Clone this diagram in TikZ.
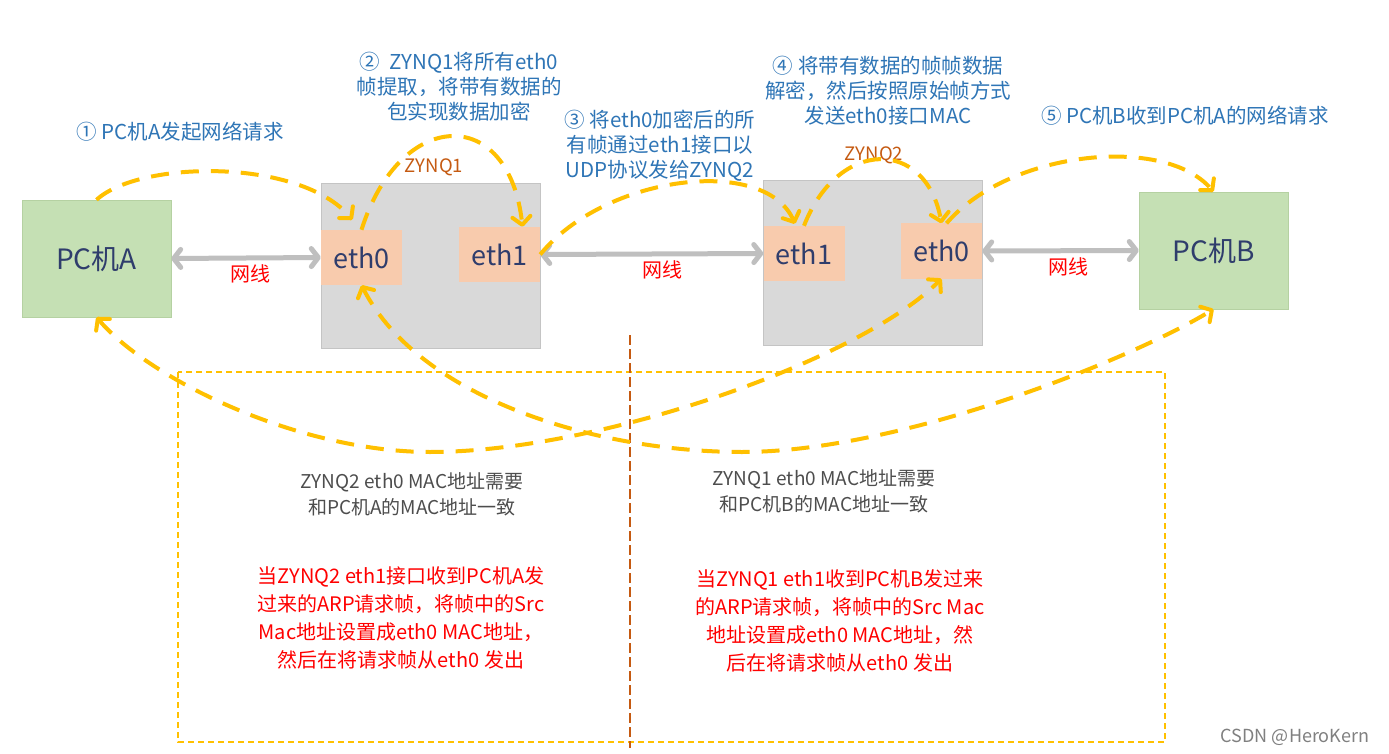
\documentclass[tikz,border=0pt]{standalone}
\usepackage{fontspec}
\setmainfont{Noto Sans CJK SC}
\usetikzlibrary{arrows.meta}
\definecolor{pcgreen}{HTML}{C5E0B4}
\definecolor{pcgreenline}{HTML}{B5D1A2}
\definecolor{chipgray}{HTML}{D9D9D9}
\definecolor{chipline}{HTML}{C4C4C4}
\definecolor{ethorange}{HTML}{F8CBAD}
\definecolor{navy}{HTML}{2F3D6C}
\definecolor{wiregray}{HTML}{BFBFBF}
\definecolor{flowyellow}{HTML}{FFC000}
\definecolor{noteblue}{HTML}{2E75B6}
\definecolor{chipbrown}{HTML}{C55A11}
\definecolor{macgray}{HTML}{4D4D4D}
\definecolor{arpred}{HTML}{FF0000}
\tikzstyle{pcbox} = [draw=pcgreenline,fill=pcgreen,minimum width=149pt,minimum height=117pt,inner sep=0pt,text=navy,font=\fontsize{28}{32}\selectfont]
\tikzstyle{chipbox} = [draw=chipline,fill=chipgray,minimum width=219pt,minimum height=165pt,inner sep=0pt]
\tikzstyle{ethbox} = [fill=ethorange,minimum width=81pt,minimum height=55pt,inner sep=0pt,text=navy,font=\fontsize{27}{30}\selectfont]
\tikzstyle{wire} = [line width=5pt,draw=wiregray,{Straight Barb[round,length=7pt,width=18pt]}-{Straight Barb[round,length=7pt,width=18pt]}]
\tikzstyle{wirelbl} = [text=arpred,font=\fontsize{20}{22}\selectfont,inner sep=1pt]
\tikzstyle{flow} = [line width=4pt,draw=flowyellow,dash pattern=on 18pt off 12pt,-{Straight Barb[round,length=8pt,width=18pt]}]
\tikzstyle{flowboth} = [flow,{Straight Barb[round,length=8pt,width=18pt]}-{Straight Barb[round,length=8pt,width=18pt]}]
\tikzstyle{stepnote} = [text=noteblue,align=center,font=\fontsize{20.5}{25}\selectfont,inner sep=0pt]
\tikzstyle{chiplbl} = [text=chipbrown,font=\fontsize{18.5}{20}\selectfont,inner sep=0pt]
\tikzstyle{macnote} = [text=macgray,align=center,font=\fontsize{19}{26}\selectfont,inner sep=0pt]
\tikzstyle{arpnote} = [text=arpred,align=center,font=\fontsize{20}{28}\selectfont,inner sep=0pt]

\begin{document}
\begin{tikzpicture}[x=1pt,y=-1pt]
			\useasboundingbox[fill=white] (0,0) rectangle (1389,754);
			
			%% region below
			\draw[flowyellow,line width=1.2pt,dash pattern=on 6pt off 4pt] (178,372) rectangle (1165,742);
			\draw[chipbrown,line width=1.2pt,dash pattern=on 10pt off 4pt] (630,335) -- (630,748);
			
			%% boxes
			\node[pcbox] (pcA) at (96.5,258.5) {PC机A}; \node[pcbox] (pcB) at (1213.5,250.5) {PC机B};
			\node[chipbox] (zynqA) at (430.5,265.5) {}; \node[chipbox] (zynqB) at (872.5,262.5) {};
			\node[ethbox] (ethA0) at (361.5,257.5) {eth0}; \node[ethbox] (ethA1) at (499.5,254.5) {eth1};
			\node[ethbox] (ethB1) at (804,253.5) {eth1}; \node[ethbox] (ethB0) at (941.5,251) {eth0};
			\node[chiplbl] (lblA) at (434,167) {ZYNQ1}; \node[chiplbl] (lblB) at (874,155) {ZYNQ2};
			
			%% cables
			\draw[wire] (pcA.east) -- node[wirelbl,pos=0.53,below=3pt] {网线} (ethA0.west);
			\draw[wire] (ethA1.east) -- node[wirelbl,pos=0.55,below=3pt] {网线} (ethB1.west);
			\draw[wire] (ethB0.east) -- node[wirelbl,pos=0.55,below=3pt] {网线} (pcB.west);
			
			%% request path
			\draw[flow] (pcA.north) .. controls (140,160) and (300,158) .. ([xshift=-9pt,yshift=10pt]ethA0.north);
			\draw[flow] (ethA0.north) .. controls (400,108) and (509,104) .. ([xshift=23pt]ethA1.north);
			\draw[flow] (ethA1.east) .. controls (605,175) and (765,155) .. ([xshift=-9pt,yshift=2pt]ethB1.north);
			\draw[flow] (ethB1.north) .. controls (838,138) and (926,138) .. (ethB0.north);
			\draw[flow] ([xshift=5pt]ethB0.north) .. controls (1010,150) and (1165,135) .. (pcB.north);
			
			%% mac paths
			\draw[flowboth] (pcA.south) .. controls (150,380) and (300,452) .. (430,452) .. controls (600,452) and (860,360) .. (ethB0.south);
			\draw[flowboth] (ethA0.south) .. controls (420,400) and (600,452) .. (742,452) .. controls (900,452) and (1130,360) .. (pcB.south);
			
			%% steps
			\node[stepnote] (step1) at (180,132) {① PC机A发起网络请求};
			\node[stepnote] (step2) at (459,87) {②\ \ ZYNQ1将所有eth0\\帧提取，将带有数据的\\包实现数据加密};
			\node[stepnote] (step3) at (660,146) {③ 将eth0加密后的所\\有帧通过eth1接口以\\UDP协议发给ZYNQ2};
			\node[stepnote] (step4) at (888,91) {④ 将带有数据的帧帧数据\\解密，然后按照原始帧方式\\发送eth0接口MAC};
			\node[stepnote] (step5) at (1185,116) {⑤ PC机B收到PC机A的网络请求};
			
			%% notes
			\node[macnote] (macA) at (412,494) {ZYNQ2 eth0 MAC地址需要\\和PC机A的MAC地址一致};
			\node[macnote] (macB) at (824,491) {ZYNQ1 eth0 MAC地址需要\\和PC机B的MAC地址一致};
			\node[arpnote] (arpA) at (401,618) {当ZYNQ2 eth1接口收到PC机A发\\过来的ARP请求帧，将帧中的Src\\Mac地址设置成eth0 MAC地址，\\然后在将请求帧从eth0 发出};
			\node[arpnote] (arpB) at (840,621) {当ZYNQ1 eth1收到PC机B发过来\\的ARP请求帧，将帧中的Src Mac\\地址设置成eth0 MAC地址，然\\后在将请求帧从eth0 发出};
			
			\node[text=gray,font=\fontsize{18}{20}\selectfont] (mark) at (1295,737) {CSDN @HeroKern};
		\end{tikzpicture}
\end{document}
